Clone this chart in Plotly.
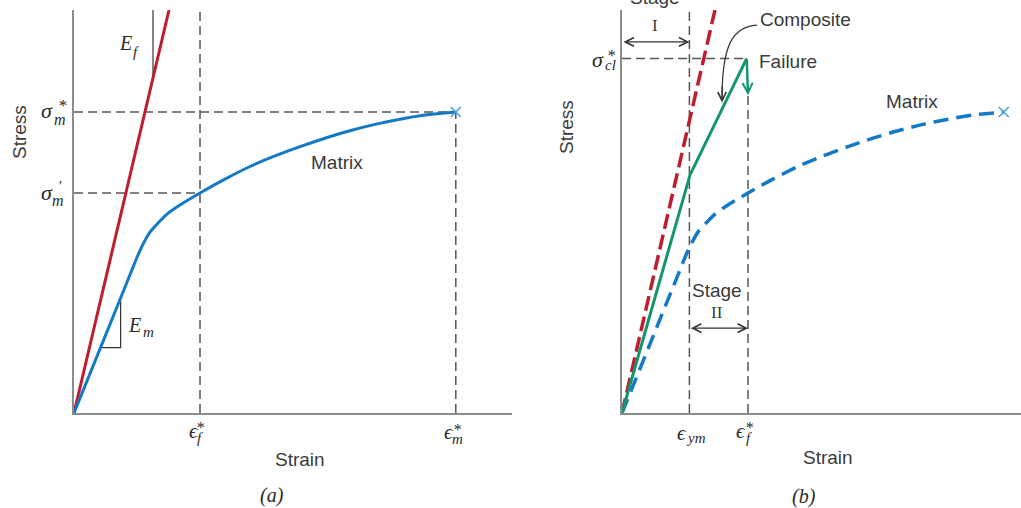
import plotly.graph_objects as go

W, H = 1021, 508

# ---------------- data (schematic units) ----------------
# matrix stress-strain curve (strain, stress)
matrix_strain = [0, 0.25, 0.45, 0.508, 0.548, 0.603, 0.667, 0.738, 0.841, 1.0, 1.198, 1.397,
                 1.595, 1.794, 1.992, 2.190, 2.389, 2.587, 2.786, 3.03]
matrix_stress = [0, 0.258, 0.465, 0.525, 0.561, 0.601, 0.631, 0.661, 0.691, 0.731, 0.777, 0.819,
                 0.854, 0.885, 0.913, 0.938, 0.959, 0.976, 0.990, 1.0]

# fibre (linear elastic up to beyond the plot top)
fiber_a_strain = [0, 0.754]
fiber_b_strain = [0, 0.738]
fiber_stress = [0, 1.339]

# composite curve (stage I, stage II, failure)
composite_strain = [0, 0.54, 0.99]
composite_stress = [0, 0.791, 1.178]

# characteristic values
eps_f = 1.0          # fibre failure strain
eps_m = 3.03         # matrix failure strain
eps_ym = 0.535       # matrix yield strain
sigma_m_star = 1.0   # matrix tensile strength
sigma_m_prime = 0.731  # matrix stress at fibre failure
sigma_cl = 1.178     # composite longitudinal strength
sigma_after = 1.056  # stress after fibre failure

y_top = 1.339
xa_max = 3.476
xb_max = 3.167

RED = '#BE1E2D'
BLUE = '#1479C6'
GREEN = '#13966B'
XBLUE = '#4BA3DD'
DASH = '#555555'
AX = '#8C8C8C'
TXT = '#3A3A3A'
SERIF = 'Liberation Serif, DejaVu Serif, serif'
SANS = 'Liberation Sans, Arial, sans-serif'

fig = go.Figure()


def line(x, y, xa, ya, color, width, dash='solid', spline=False):
    ln = dict(color=color, width=width, dash=dash)
    if spline:
        ln.update(shape='spline', smoothing=0.8)
    fig.add_trace(go.Scatter(x=x, y=y, xaxis=xa, yaxis=ya, mode='lines', line=ln,
                             hoverinfo='skip', showlegend=False))


def xmark(xa, ya):
    fig.add_trace(go.Scatter(x=[eps_m], y=[sigma_m_star], xaxis=xa, yaxis=ya, mode='markers',
                             marker=dict(symbol='x-thin', size=10, line=dict(color=XBLUE, width=1.6)),
                             hoverinfo='skip', showlegend=False, cliponaxis=False))


GD = '9px,5px'
# ---------------- panel (a) ----------------
line([0, eps_f], [sigma_m_prime, sigma_m_prime], 'x', 'y', DASH, 1.5, GD)
line([0, eps_m], [sigma_m_star, sigma_m_star], 'x', 'y', DASH, 1.5, GD)
line([eps_f, eps_f], [0, y_top], 'x', 'y', DASH, 1.5, GD)
line([eps_m, eps_m], [0, sigma_m_star], 'x', 'y', DASH, 1.5, GD)

# modulus triangles
k_f = fiber_stress[1] / fiber_a_strain[1]
xt = 0.627
line([xt, xt], [y_top, k_f * xt], 'x', 'y', '#333333', 1.2)
k_m = matrix_stress[3] / matrix_strain[3]
x1, x2 = 0.21, 0.37
line([x1, x2, x2], [k_m * x1, k_m * x1, k_m * x2], 'x', 'y', '#333333', 1.2)

line(fiber_a_strain, fiber_stress, 'x', 'y', RED, 3)
line(matrix_strain, matrix_stress, 'x', 'y', BLUE, 3, spline=True)
xmark('x', 'y')

# ---------------- panel (b) ----------------
line([0, eps_f], [sigma_cl, sigma_cl], 'x2', 'y2', DASH, 1.5, GD)
line([eps_ym, eps_ym], [0, y_top], 'x2', 'y2', DASH, 1.5, GD)
line([eps_f, eps_f], [0, sigma_after], 'x2', 'y2', DASH, 1.5, GD)

line(fiber_b_strain, fiber_stress, 'x2', 'y2', RED, 3.5, '15px,6px')
line(matrix_strain, matrix_stress, 'x2', 'y2', BLUE, 3.5, '15px,8px', spline=True)
line(composite_strain, composite_stress, 'x2', 'y2', GREEN, 3)
xmark('x2', 'y2')

ann = []


def P(x, y):
    return x / W, 1 - y / H


def txt(xp, yp, text, size=19, family=SANS, color=TXT, angle=0):
    x, y = P(xp, yp)
    ann.append(dict(x=x, y=y, xref='paper', yref='paper', text=text, showarrow=False,
                    font=dict(size=size, family=family, color=color), textangle=angle,
                    xanchor='center', yanchor='middle'))


def it(xp, yp, text, size):
    txt(xp, yp, f'<i>{text}</i>', size=size, family=SERIF, color='#2A2A2A')


# axis titles / labels
txt(19, 132, 'Stress', angle=-90)
txt(566, 127, 'Stress', angle=-90)
txt(300, 459, 'Strain')
txt(828, 457, 'Strain')
txt(337, 162, 'Matrix')
txt(912, 102, 'Matrix')
txt(805, 19, 'Composite')
txt(788, 61, 'Failure')
it(272, 495, '(a)', 20)
it(804, 496, '(b)', 20)

# stage labels
txt(655, -3, 'Stage')
txt(655, 25, 'I', size=17, family=SERIF)
txt(717, 290, 'Stage')
txt(717, 312, 'II', size=17, family=SERIF)

# symbols panel (a)
it(47, 110, 'σ', 22); it(60, 119, 'm', 16); it(62, 106, '*', 17)
it(47, 192, 'σ', 22); it(58, 201, 'm', 16); it(60, 186, '′', 15)
it(125, 43, 'E', 20); it(136, 52, 'f', 15)
it(134, 325, 'E', 20); it(148, 332, 'm', 15)
it(194, 431, 'ϵ', 21); it(200, 438, 'f', 15); it(200, 427, '*', 16)
it(449, 432, 'ϵ', 21); it(457, 439, 'm', 15); it(457, 429, '*', 16)
# symbols panel (b)
it(598, 59, 'σ', 22); it(610, 65, 'cl', 15); it(611, 55, '*', 16)
it(682, 433, 'ϵ', 21); it(696, 438, 'ym', 15)
it(741, 431, 'ϵ', 21); it(749, 438, 'f', 15); it(749, 427, '*', 16)

# arrows (panel b)
stage1_y = 1.233
stage2_y = 0.282
ann.append(dict(x=eps_ym, y=stage1_y, ax=0, ay=stage1_y, xref='x2', yref='y2', axref='x2', ayref='y2',
                text='', showarrow=True, arrowhead=5, startarrowhead=5, arrowside='end+start',
                arrowwidth=1.3, arrowsize=1.3, startarrowsize=1.3, arrowcolor='#333333'))
ann.append(dict(x=eps_f, y=stage2_y, ax=eps_ym, ay=stage2_y, xref='x2', yref='y2', axref='x2', ayref='y2',
                text='', showarrow=True, arrowhead=5, startarrowhead=5, arrowside='end+start',
                arrowwidth=1.3, arrowsize=1.3, startarrowsize=1.3, arrowcolor='#333333'))
# failure drop arrow
ann.append(dict(x=eps_f, y=sigma_after, ax=eps_f - 0.01, ay=sigma_cl, xref='x2', yref='y2', axref='x2', ayref='y2',
                text='', showarrow=True, arrowhead=5, arrowwidth=2.5, arrowsize=0.8, arrowcolor=GREEN))
# composite pointer arrowhead
ann.append(dict(x=0.794, y=1.032, ax=0.794, ay=1.09, xref='x2', yref='y2', axref='x2', ayref='y2',
                text='', showarrow=True, arrowhead=5, arrowwidth=1.2, arrowsize=1.4, arrowcolor='#333333'))

shapes = [dict(type='path', xref='x2', yref='y2',
               path='M 1.071 1.289 C 0.88 1.283, 0.794 1.225, 0.794 1.045',
               line=dict(color='#333333', width=1.2))]

ax_common = dict(showgrid=False, zeroline=False, showticklabels=False, ticks='', showline=True,
                 linecolor=AX, linewidth=2, fixedrange=True)
fig.update_layout(
    width=W, height=H, margin=dict(l=0, r=0, t=0, b=0),
    paper_bgcolor='white', plot_bgcolor='white', showlegend=False,
    xaxis=dict(domain=[74 / W, 512 / W], range=[0, xa_max], anchor='y', **ax_common),
    yaxis=dict(domain=[1 - 413 / H, 1 - 10 / H], range=[0, y_top], anchor='x', **ax_common),
    xaxis2=dict(domain=[622 / W, 1.0], range=[0, xb_max], anchor='y2', **ax_common),
    yaxis2=dict(domain=[1 - 413 / H, 1 - 10 / H], range=[0, y_top], anchor='x2', **ax_common),
    annotations=ann, shapes=shapes,
)

fig.write_html('out.html', config={'staticPlot': True},
               post_script="document.body.style.margin='0';document.body.style.overflow='hidden';")
